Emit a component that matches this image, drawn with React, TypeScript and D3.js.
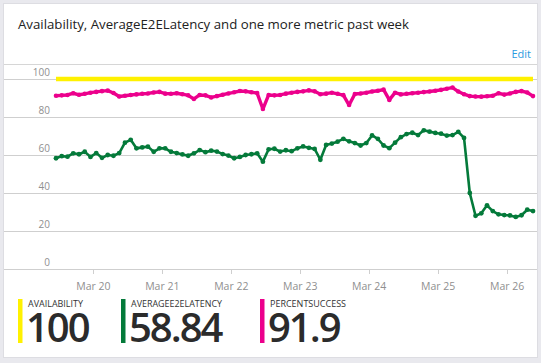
import React from "react";
import * as d3 from "d3";

// 2-hourly samples, Mar 19 11:00 -> Mar 26 09:00
const START = Date.UTC(2017, 2, 19, 11);
const STEP_HOURS = 2;

const availability = [
  100, 100, 100, 100, 100, 100, 100, 100, 100, 100, 100, 100,
  100, 100, 100, 100, 100, 100, 100, 100, 100, 100, 100, 100,
  100, 100, 100, 100, 100, 100, 100, 100, 100, 100, 100, 100,
  100, 100, 100, 100, 100, 100, 100, 100, 100, 100, 100, 100,
  100, 100, 100, 100, 100, 100, 100, 100, 100, 100, 100, 100,
  100, 100, 100, 100, 100, 100, 100, 100, 100, 100, 100, 100,
  100, 100, 100, 100, 100, 100, 100, 100, 100, 100, 100, 100,
];

const averageE2ELatency = [
  58.3, 59.4, 59.1, 60.9, 60.4, 61.7, 59.0, 61.0, 58.5, 60.0, 59.6, 61.0,
  66.5, 68.0, 63.5, 64.0, 64.4, 61.7, 63.5, 63.5, 61.7, 61.0, 60.3, 59.6,
  60.9, 62.6, 61.5, 62.3, 61.8, 60.5, 59.7, 58.3, 59.0, 60.0, 60.4, 60.9,
  56.5, 63.0, 63.3, 61.8, 62.5, 62.0, 63.5, 64.5, 63.8, 63.2, 57.5, 65.3,
  66.0, 67.0, 68.5, 67.2, 66.3, 65.0, 66.3, 70.3, 68.5, 65.0, 63.6, 66.5,
  69.4, 71.0, 71.7, 70.5, 73.0, 72.3, 71.6, 71.2, 70.2, 70.5, 72.2, 69.0,
  40.0, 28.0, 29.3, 33.5, 30.5, 28.8, 28.4, 28.2, 27.4, 28.3, 31.2, 30.5,
];

const percentSuccess = [
  91.2, 91.4, 91.6, 92.5, 91.7, 92.2, 92.8, 93.2, 93.6, 93.9, 92.6, 90.8,
  91.2, 91.6, 91.9, 92.2, 92.4, 92.9, 93.2, 92.3, 92.2, 92.5, 92.0, 91.4,
  89.5, 91.6, 91.4, 90.3, 91.0, 91.7, 92.4, 93.0, 93.7, 93.5, 93.0, 92.6,
  84.2, 91.6, 91.4, 91.6, 92.3, 92.8, 93.2, 93.5, 94.0, 93.5, 92.0, 92.3,
  92.8, 92.2, 91.5, 86.3, 92.1, 92.4, 92.8, 93.4, 93.8, 94.4, 89.0, 92.8,
  91.9, 92.2, 92.5, 92.8, 93.1, 93.4, 93.8, 94.3, 94.9, 95.5, 93.4, 92.0,
  91.0, 90.8, 90.7, 90.9, 91.2, 92.5, 91.8, 92.4, 93.2, 93.6, 92.9, 91.0,
];

const yTicks = [0, 20, 40, 60, 80, 100];
const legendNames = ["AVAILABILITY", "AVERAGEE2ELATENCY", "PERCENTSUCCESS"];
const legendValues = ["100", "58.84", "91.9"];

const W = 541;
const H = 363;
const FONT = "'Segoe UI', 'Open Sans', sans-serif";
const colors = ["#fff100", "#047a3a", "#ec008c"];

const x = d3
  .scaleUtc()
  .domain([new Date(START), d3.utcHour.offset(new Date(START), (availability.length - 1) * STEP_HOURS)])
  .range([56, 533]);
const y = d3.scaleLinear().domain([0, 100]).range([269, 79]);

const dateAt = (i: number) => d3.utcHour.offset(new Date(START), i * STEP_HOURS);

const line = d3
  .line<number>()
  .x((d, i) => x(dateAt(i)))
  .y((d) => y(d));

const series = [
  { values: availability, color: colors[0], width: 4.5, dots: false, r: 0 },
  { values: averageE2ELatency, color: colors[1], width: 2.6, dots: true, r: 2.4 },
  { values: percentSuccess, color: colors[2], width: 3.4, dots: true, r: 2.3 },
];

const legendX = [18, 121, 260];
const labelWidths = [55, 91, 76];

export default function App() {
  const days = x.ticks(d3.utcDay.every(1) as any);
  const fmt = d3.utcFormat("%b %d");

  return (
    <svg
      width={W}
      height={H}
      style={{ position: "absolute", left: 0, top: 0, fontFamily: FONT }}
    >
      <rect width={W} height={H} fill="#e9e9ee" />
      <rect x={3.5} y={3.5} width={534} height={354} fill="#fff" stroke="#dddde2" />

      <text x={18} y={29} fontSize={13.5} fill="#222" textLength={391} lengthAdjust="spacingAndGlyphs">
        Availability, AverageE2ELatency and one more metric past week
      </text>
      <text x={531} y={58} fontSize={11} fill="#2a9be0" textAnchor="end">
        Edit
      </text>
      <line x1={4} x2={537} y1={64.5} y2={64.5} stroke="#d6d6d6" />

      {/* gridlines + y labels */}
      {yTicks.map((t) => (
        <g key={t}>
          <line x1={4} x2={537} y1={Math.round(y(t)) + 0.5} y2={Math.round(y(t)) + 0.5} stroke="#cfcfcf" />
          <text x={50} y={y(t) - 3} fontSize={10} fill="#8f8f8f" textAnchor="end">
            {t}
          </text>
        </g>
      ))}

      {/* x axis ticks + labels */}
      {days.map((d) => (
        <g key={d.toISOString()}>
          <line x1={Math.round(x(d)) + 0.5} x2={Math.round(x(d)) + 0.5} y1={269} y2={274} stroke="#cfcfcf" />
          <text x={x(d)} y={290} fontSize={10.5} fill="#8f8f8f" textAnchor="middle">
            {fmt(d)}
          </text>
        </g>
      ))}

      {/* series */}
      {series.map((s, k) => (
        <g key={k}>
          <path d={line(s.values) || ""} fill="none" stroke={s.color} strokeWidth={s.width} strokeLinejoin="round" />
          {s.dots &&
            s.values.map((v, i) => (
              <circle key={i} cx={x(dateAt(i))} cy={y(v)} r={s.r} fill={s.color} />
            ))}
        </g>
      ))}

      {/* legend */}
      {legendNames.map((name, i) => (
        <g key={name} transform={`translate(${legendX[i]},0)`}>
          <rect x={0} y={299} width={4.5} height={44} fill={colors[i]} />
          <text x={10} y={307} fontSize={9.5} fill="#333" textLength={labelWidths[i]} lengthAdjust="spacingAndGlyphs">
            {name}
          </text>
          <text x={8} y={342} fontSize={40} fontWeight={600} fill="#2b2b2b" letterSpacing={-2}>
            {legendValues[i]}
          </text>
        </g>
      ))}
    </svg>
  );
}
